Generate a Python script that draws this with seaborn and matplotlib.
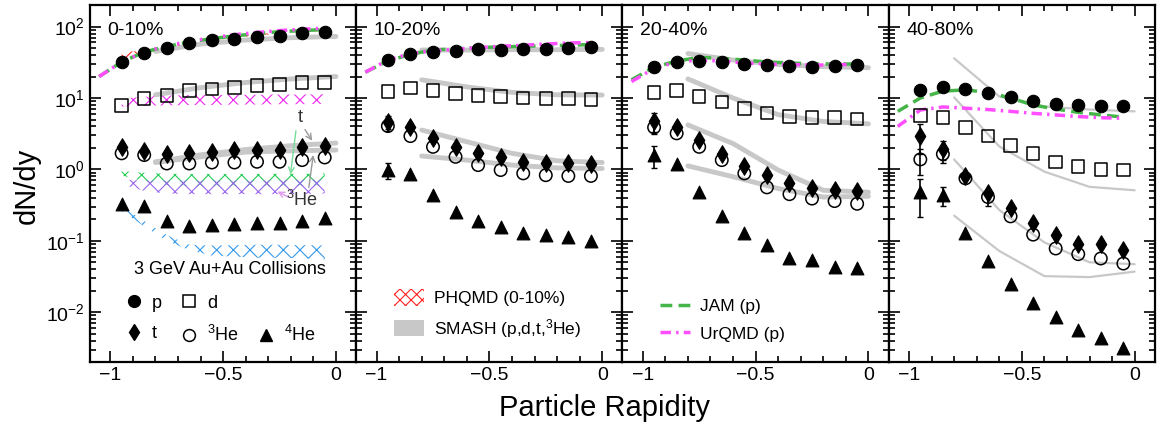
import numpy as np
import matplotlib
matplotlib.use("Agg")
import matplotlib.pyplot as plt
from matplotlib.lines import Line2D
from matplotlib.patches import Patch
from matplotlib.ticker import MultipleLocator, LogLocator, NullFormatter
import seaborn as sns

# --- data ---
centralities = ["0-10%", "10-20%", "20-40%", "40-80%"]
rapidity = [-0.95, -0.85, -0.75, -0.65, -0.55, -0.45, -0.35, -0.25, -0.15, -0.05]
model_rapidity = [-1.05, -0.95, -0.85, -0.75, -0.65, -0.55, -0.45, -0.35, -0.25, -0.15, -0.05]
smash_rapidity = [-0.8, -0.6, -0.4, -0.2, 0.0]

p_dndy = [
    [32.4, 42.6, 50, 59, 64, 68, 72, 75, 81, 84],
    [34, 41, 44.6, 46, 48, 47, 48.6, 48.6, 49.8, 52.5],
    [27, 32.3, 33, 32.3, 30, 29, 28.1, 27.5, 28.4, 29],
    [12.8, 14.1, 13.4, 11.75, 10.2, 9.0, 8.2, 7.9, 7.8, 7.8],
]
d_dndy = [
    [7.9, 9.8, 10.9, 12.8, 13.5, 14.1, 15, 15.4, 16.6, 16.6],
    [12.4, 13.8, 12.8, 11.5, 10.9, 10.5, 10, 9.8, 9.8, 9.5],
    [12, 12.8, 10.5, 8.8, 7.1, 6.16, 5.5, 5.35, 5.35, 5.1],
    [5.7, 5.35, 3.87, 2.96, 2.16, 1.66, 1.26, 1.1, 1.0, 0.98],
]
t_dndy = [
    [2.07, 1.81, 1.64, 1.68, 1.77, 1.87, 1.87, 1.87, 2.07, 2.14],
    [4.65, 3.96, 2.72, 2.07, 1.71, 1.50, 1.28, 1.21, 1.21, 1.19],
    [4.8, 3.96, 2.58, 1.64, 1.12, 0.83, 0.65, 0.55, 0.52, 0.50],
    [2.96, 1.93, 0.81, 0.47, 0.284, 0.175, 0.12, 0.0895, 0.0895, 0.0755],
]
he3_dndy = [
    [1.68, 1.59, 1.21, 1.21, 1.25, 1.25, 1.28, 1.28, 1.35, 1.47],
    [4.05, 2.93, 2.07, 1.50, 1.15, 0.98, 0.88, 0.83, 0.81, 0.81],
    [3.88, 3.2, 2.07, 1.35, 0.88, 0.56, 0.45, 0.39, 0.36, 0.33],
    [1.38, 1.64, 0.75, 0.41, 0.22, 0.122, 0.078, 0.065, 0.0565, 0.048],
]
he4_dndy = [
    [0.33, 0.31, 0.187, 0.162, 0.167, 0.171, 0.175, 0.18, 0.187, 0.208],
    [0.97, 0.86, 0.44, 0.25, 0.187, 0.154, 0.128, 0.12, 0.114, 0.098],
    [1.59, 1.19, 0.48, 0.224, 0.13, 0.088, 0.058, 0.054, 0.043, 0.041],
    [0.475, 0.44, 0.13, 0.0524, 0.0252, 0.0136, 0.0086, 0.0056, 0.0044, 0.0032],
]

# relative errors (only the ones that stick out of the markers)
t_relerr = [
    [0.10, 0, 0, 0, 0, 0, 0, 0, 0, 0],
    [0.22, 0.12, 0, 0, 0, 0, 0, 0, 0, 0],
    [0.30, 0.12, 0, 0, 0, 0, 0, 0, 0, 0],
    [0.45, 0.30, 0, 0.10, 0, 0, 0, 0, 0, 0],
]
he3_relerr = [
    [0, 0, 0, 0, 0, 0, 0, 0, 0, 0],
    [0.15, 0, 0, 0, 0, 0, 0, 0, 0, 0],
    [0.20, 0, 0, 0, 0, 0, 0, 0, 0, 0],
    [0.40, 0.25, 0, 0.25, 0, 0, 0, 0, 0, 0],
]
he4_relerr = [
    [0, 0, 0, 0, 0, 0, 0, 0, 0, 0],
    [0.25, 0, 0, 0, 0, 0, 0, 0, 0, 0],
    [0.35, 0, 0, 0, 0, 0, 0, 0, 0, 0],
    [0.55, 0.30, 0, 0, 0, 0, 0, 0, 0, 0],
]

# SMASH (p, d, t, 3He)
smash_p = [[45, 57, 65, 70, 73], [47, 47, 47.5, 47.5, 48], [42, 34, 29.5, 27.5, 26.6], [36, 10.5, 7.6, 6.9, 6.5]]
smash_d = [[11.1, 14, 16.5, 18.5, 20], [18, 14.3, 12, 11.1, 11], [18.5, 10, 5.85, 4.7, 4.35], [10.2, 2.1, 0.93, 0.57, 0.51]]
smash_t = [[1.28, 1.6, 1.9, 2.15, 2.34], [3.56, 2.44, 1.68, 1.32, 1.25], [4.2, 2.3, 0.98, 0.51, 0.48], [1.38, 0.27, 0.095, 0.05, 0.047]]
smash_he3 = [[1.25, 1.5, 1.75, 1.82, 1.87], [1.54, 1.35, 1.15, 1.05, 1.03], [1.12, 0.79, 0.54, 0.41, 0.42], [0.225, 0.072, 0.032, 0.031, 0.037]]

# JAM / UrQMD protons
jam_p = [
    [20, 32, 44, 53, 61, 68, 74, 80, 85, 88, 91],
    [23, 33, 41, 47, 49, 51, 52, 53, 54, 55, 56],
    [18, 27, 33, 37, 36, 34, 32, 31, 30, 30, 30],
    [6.5, 10, 12.5, 13, 12, 10, 8, 7, 6.3, 5.8, 5.4],
]
urqmd_p = [
    [20, 32, 44, 54, 62, 70, 77, 83, 88, 92, 95],
    [23, 34, 42, 46, 48, 51, 53, 55, 57, 59, 60],
    [17, 26, 32, 34, 33, 31, 30, 29.5, 29, 29, 30],
    [4.0, 6.8, 7.5, 7.2, 6.9, 6.5, 6.1, 5.8, 5.5, 5.3, 5.2],
]

# PHQMD bands (0-10% only)
phqmd_p_lo = [33, 42, 50, 58, 64, 70, 75, 80, 84, 87]
phqmd_p_hi = [44, 46, 53, 61, 67, 73, 78, 83, 87, 90]
phqmd_d_lo = [7.6, 7.8, 7.9, 8.0, 8.0, 8.1, 8.1, 8.2, 8.2, 8.3]
phqmd_d_hi = [9.8, 10.4, 10.8, 11, 11, 11.1, 11.1, 11.2, 11.2, 11.3]
phqmd_t_lo = [0.82, 0.68, 0.6, 0.58, 0.58, 0.58, 0.58, 0.58, 0.59, 0.6]
phqmd_t_hi = [0.95, 0.9, 0.87, 0.86, 0.86, 0.86, 0.86, 0.87, 0.87, 0.88]
phqmd_he3_lo = [0.62, 0.5, 0.46, 0.45, 0.45, 0.45, 0.45, 0.45, 0.45, 0.46]
phqmd_he3_hi = [0.72, 0.7, 0.7, 0.7, 0.7, 0.7, 0.7, 0.71, 0.72, 0.72]
phqmd_he4_lo = [0.26, 0.16, 0.10, 0.074, 0.062, 0.06, 0.058, 0.058, 0.057, 0.055]
phqmd_he4_hi = [0.30, 0.19, 0.12, 0.088, 0.086, 0.087, 0.088, 0.088, 0.087, 0.086]

# --- style ---
sns.set_style("ticks", {"axes.edgecolor": "black", "xtick.color": "black",
                        "ytick.color": "black", "text.color": "black",
                        "axes.labelcolor": "black"})
plt.rcParams["font.family"] = ["Liberation Sans", "DejaVu Sans"]
plt.rcParams["mathtext.fontset"] = "custom"
plt.rcParams["mathtext.rm"] = "Liberation Sans"
plt.rcParams["mathtext.it"] = "Liberation Sans:italic"
plt.rcParams["mathtext.bf"] = "Liberation Sans:bold"
plt.rcParams["hatch.linewidth"] = 0.8

JAM_C = "#45b549"
URQMD_C = "#ff4dff"
SMASH_C = "#c8c8c8"
jam_ls = (0, (3.4, 1.8))
urqmd_ls = (0, (3, 1.5, 0.7, 1.5))

fig, axes = plt.subplots(1, 4, figsize=(11.59, 4.29), dpi=100, sharey=True)
fig.subplots_adjust(left=0.0777, right=0.9965, bottom=0.156, top=0.988, wspace=0)

phqmd_bands = [
    (phqmd_p_lo, phqmd_p_hi, "#ff2020"),
    (phqmd_d_lo, phqmd_d_hi, "#ee22ee"),
    (phqmd_t_lo, phqmd_t_hi, "#22cc55"),
    (phqmd_he3_lo, phqmd_he3_hi, "#9966ee"),
    (phqmd_he4_lo, phqmd_he4_hi, "#3399ee"),
]

for i, ax in enumerate(axes):
    ax.set_yscale("log")

    # SMASH: bands in the first three panels, thin lines in 40-80%
    lw_smash = 3.5 if i < 3 else 1.6
    for vals in (smash_p[i], smash_d[i], smash_t[i], smash_he3[i]):
        sns.lineplot(x=smash_rapidity, y=vals, ax=ax, color=SMASH_C, lw=lw_smash, zorder=1)

    if i == 0:
        for lo, hi, c in phqmd_bands:
            ax.fill_between(rapidity, lo, hi, facecolor="none", edgecolor=c,
                            hatch="xx", lw=0, zorder=2)

    sns.lineplot(x=model_rapidity, y=jam_p[i], ax=ax, color=JAM_C, lw=2.5,
                 linestyle=jam_ls, zorder=3)
    sns.lineplot(x=model_rapidity, y=urqmd_p[i], ax=ax, color=URQMD_C, lw=2.5,
                 linestyle=urqmd_ls, zorder=3)

    # error bars
    for vals, err in ((t_dndy[i], t_relerr[i]), (he3_dndy[i], he3_relerr[i]),
                      (he4_dndy[i], he4_relerr[i])):
        yerr = np.array(vals) * np.array(err)
        keep = yerr > 0
        if keep.any():
            ax.errorbar(np.array(rapidity)[keep], np.array(vals)[keep], yerr=yerr[keep],
                        fmt="none", ecolor="black", elinewidth=1.2, capsize=2, zorder=4)

    sns.scatterplot(x=rapidity, y=p_dndy[i], ax=ax, marker="o", s=80,
                    color="black", edgecolor="black", linewidth=0.8, zorder=6)
    sns.scatterplot(x=rapidity, y=d_dndy[i], ax=ax, marker="s", s=80,
                    facecolor="none", edgecolor="black", linewidth=1.1, zorder=6)
    sns.scatterplot(x=rapidity, y=t_dndy[i], ax=ax, marker="d", s=80,
                    color="black", edgecolor="black", linewidth=0.8, zorder=6)
    sns.scatterplot(x=rapidity, y=he3_dndy[i], ax=ax, marker="o", s=80,
                    facecolor="none", edgecolor="black", linewidth=1.1, zorder=6)
    sns.scatterplot(x=rapidity, y=he4_dndy[i], ax=ax, marker="^", s=85,
                    color="black", edgecolor="black", linewidth=0.8, zorder=6)

    ax.text(0.065, 0.93, centralities[i], transform=ax.transAxes,
            ha="left", va="center", fontsize=14)

    ax.set_xlim(-1.09, 0.09)
    ax.set_ylim(0.002, 200)
    ax.set_xticks([-1, -0.5, 0])
    ax.set_xticklabels(["\u22121", "\u22120.5", "0"])
    ax.xaxis.set_minor_locator(MultipleLocator(0.1))
    ax.yaxis.set_major_locator(LogLocator(base=10, numticks=10))
    ax.yaxis.set_minor_locator(LogLocator(base=10, subs=np.arange(2, 10), numticks=20))
    ax.yaxis.set_minor_formatter(NullFormatter())
    ax.tick_params(which="both", direction="in", top=True, right=True, width=1.2)
    ax.tick_params(which="major", length=8, labelsize=14)
    ax.tick_params(which="minor", length=4)
    for sp in ax.spines.values():
        sp.set_linewidth(1.6)
    ax.set_xlabel("")
    ax.set_ylabel("")

# panel 1 extras
ax = axes[0]
ax.annotate("", xy=(-0.203, 0.78), xytext=(-0.176, 3.8),
            arrowprops=dict(arrowstyle="->", color="#77dd99", lw=1))
ax.annotate("", xy=(-0.099, 2.34), xytext=(-0.144, 3.9),
            arrowprops=dict(arrowstyle="->", color="#999999", lw=1))
ax.annotate("", xy=(-0.099, 1.74), xytext=(-0.122, 0.51),
            arrowprops=dict(arrowstyle="->", color="#999999", lw=1))
ax.annotate("", xy=(-0.27, 0.51), xytext=(-0.198, 0.39),
            arrowprops=dict(arrowstyle="->", color="#dd99ee", lw=1))
ax.text(-0.158, 5.25, "t", ha="center", va="center", fontsize=13, color="#333333")
ax.text(-0.153, 0.37, "$^{3}$He", ha="center", va="center", fontsize=13, color="#333333")
ax.text(0.527, 0.26, "3 GeV Au+Au Collisions", transform=ax.transAxes,
        ha="center", va="center", fontsize=13)

h1 = [Line2D([], [], ls="none", marker="o", color="k", ms=8.5),
      Line2D([], [], ls="none", marker="d", color="k", ms=8.5),
      Line2D([], [], ls="none", marker="s", mfc="none", mec="k", mew=1.1, ms=8.5),
      Line2D([], [], ls="none", marker="o", mfc="none", mec="k", mew=1.1, ms=8.5),
      Line2D([], [], ls="none"),
      Line2D([], [], ls="none", marker="^", color="k", ms=9)]
ax.legend(h1, ["p", "t", "d", "$^{3}$He", "", "$^{4}$He"], ncol=3,
          loc="center left", bbox_to_anchor=(0.13, 0.118), frameon=False,
          fontsize=13, handlelength=1.0, handletextpad=0.5, columnspacing=1.0,
          labelspacing=0.75, borderpad=0, borderaxespad=0)

h2 = [Patch(facecolor="none", edgecolor="#ff2222", hatch="xxx", lw=0),
      Patch(facecolor=SMASH_C, edgecolor="none")]
axes[1].legend(h2, ["PHQMD (0-10%)", "SMASH (p,d,t,$^{3}$He)"], loc="center left",
               bbox_to_anchor=(0.142, 0.134), frameon=False, fontsize=12.5,
               handlelength=1.7, handleheight=1.1, handletextpad=0.6,
               labelspacing=0.6, borderpad=0, borderaxespad=0)

h3 = [Line2D([], [], color=JAM_C, lw=2.5, ls=jam_ls),
      Line2D([], [], color=URQMD_C, lw=2.5, ls=urqmd_ls)]
axes[2].legend(h3, ["JAM (p)", "UrQMD (p)"], loc="center left",
               bbox_to_anchor=(0.142, 0.117), frameon=False, fontsize=12.5,
               handlelength=1.7, handletextpad=0.6, labelspacing=0.7,
               borderpad=0, borderaxespad=0)

fig.text(0.023, 0.566, "dN/dy", rotation=90, ha="center", va="center", fontsize=21)
fig.text(0.522, 0.049, "Particle Rapidity", ha="center", va="center", fontsize=21)

fig.savefig("out.png", dpi=100)
